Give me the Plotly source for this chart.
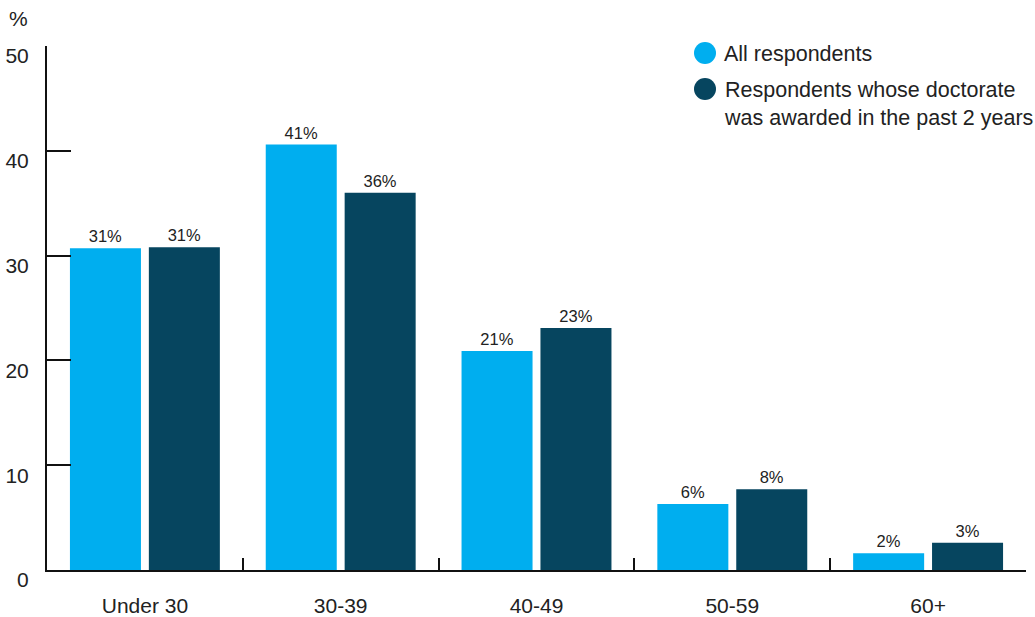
import plotly.graph_objects as go

categories = ["Under 30", "30-39", "40-49", "50-59", "60+"]
all_resp = [30.7, 40.6, 20.9, 6.3, 1.6]
recent = [30.8, 36.0, 23.1, 7.7, 2.6]
all_labels = ["31%", "41%", "21%", "6%", "2%"]
recent_labels = ["31%", "36%", "23%", "8%", "3%"]
series_names = ["All respondents", "Respondents whose doctorate<br>was awarded in the past 2 years"]
colors = ["#00AEEF", "#06455F"]
y_ticks = [0, 10, 20, 30, 40, 50]

FONT = "Liberation Sans, Arial, sans-serif"

fig = go.Figure()
for vals, labels, name, col in [(all_resp, all_labels, series_names[0], colors[0]),
                                (recent, recent_labels, series_names[1], colors[1])]:
    fig.add_trace(go.Bar(
        x=categories, y=vals, name=name, marker=dict(color=col, line=dict(width=0)),
        text=labels, textposition="outside", cliponaxis=False,
        textfont=dict(family=FONT, size=16.5, color="#222222"),
        showlegend=False, hoverinfo="skip"))

fig.update_layout(
    width=1035, height=617,
    margin=dict(l=47, r=9, t=46, b=47),
    paper_bgcolor="white", plot_bgcolor="white",
    barmode="group", bargap=0.194, bargroupgap=0.10,
    font=dict(family=FONT, size=21, color="#222222"),
    xaxis=dict(
        automargin=False,
        showline=True, linecolor="#111111", linewidth=2,
        ticks="inside", tickson="boundaries", ticklen=12, tickwidth=2, tickcolor="#111111",
        showgrid=False, tickfont=dict(size=21, color="#222222"),
        ticklabelstandoff=16),
    yaxis=dict(
        automargin=False,
        range=[0, 50], tickvals=y_ticks, showline=True, linecolor="#111111", linewidth=2,
        ticks="inside", ticklen=24, tickwidth=2, tickcolor="#111111",
        showgrid=False, zeroline=False, tickfont=dict(size=21, color="#222222"),
        ticklabelshift=10, ticklabelstandoff=12),
)

# legend (circles + text)
leg_y = [53, 89]
for i, (name, col) in enumerate(zip(series_names, colors)):
    cy = 1 - (leg_y[i] - 46) / 524
    fig.add_shape(type="circle", xref="paper", yref="paper",
                  x0=(694 - 47) / 979, x1=(716 - 47) / 979,
                  y0=cy - 11 / 524, y1=cy + 11 / 524,
                  fillcolor=col, line=dict(width=0))
    fig.add_annotation(xref="paper", yref="paper", x=(722 - 47) / 979, y=cy + 13.5 / 524,
                       text=name, showarrow=False, xanchor="left", yanchor="top",
                       align="left", font=dict(size=21.5, color="#222222"))

fig.add_annotation(xref="paper", yref="paper", x=(7 - 47) / 979, y=1 + 28 / 524,
                   text="%", showarrow=False, xanchor="left", yanchor="middle",
                   font=dict(size=21, color="#222222"))

fig.write_html("out.html")
